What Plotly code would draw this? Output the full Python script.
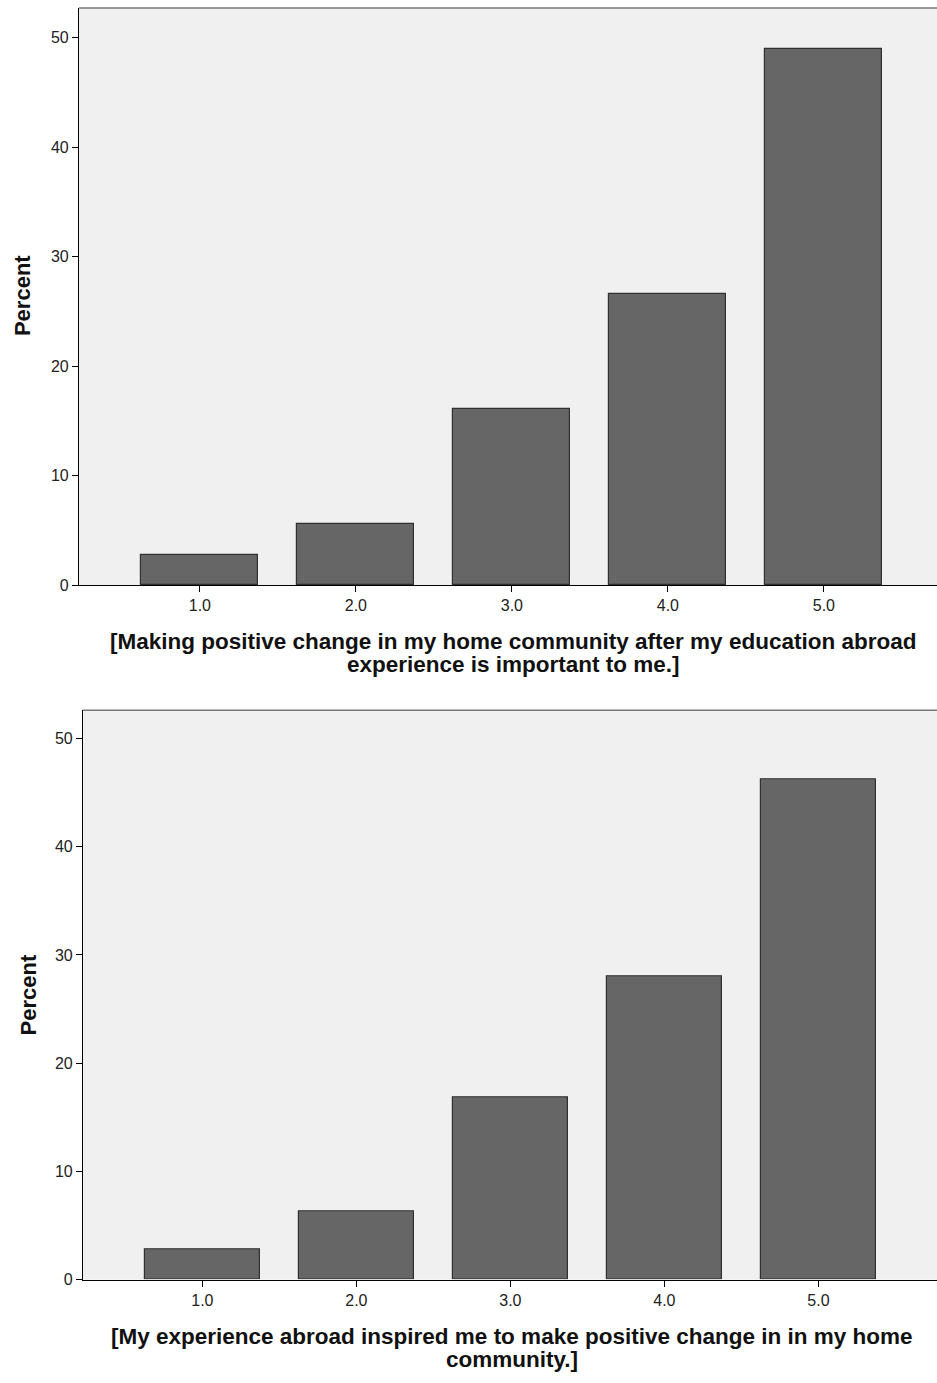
import plotly.graph_objects as go

categories = [1.0, 2.0, 3.0, 4.0, 5.0]
tick_labels = ["1.0", "2.0", "3.0", "4.0", "5.0"]
top_values = [2.8, 5.6, 16.1, 26.6, 49.0]
bottom_values = [2.8, 6.3, 16.8, 28.0, 46.2]
y_ticks = [0, 10, 20, 30, 40, 50]
top_title_lines = ["[Making positive change in my home community after my education abroad",
                   "experience is important to me.]"]
bottom_title_lines = ["[My experience abroad inspired me to make positive change in in my home",
                      "community.]"]
y_title = "Percent"

W, H = 937, 1383
FONT = "Liberation Sans, Arial, sans-serif"

fig = go.Figure()
fig.add_trace(go.Bar(x=categories, y=top_values, width=0.75, xaxis="x", yaxis="y",
                     marker=dict(color="#666666", line=dict(color="#303030", width=1.2)),
                     showlegend=False))
fig.add_trace(go.Bar(x=categories, y=bottom_values, width=0.75, xaxis="x2", yaxis="y2",
                     marker=dict(color="#666666", line=dict(color="#303030", width=1.2)),
                     showlegend=False))

def py(px):
    return 1 - px / H

def pxx(px):
    return px / W

top_dom = [py(589), py(8)]
bot_dom = [py(1288), py(715)]

axis_common = dict(showline=True, linecolor="black", linewidth=1.2, ticks="outside",
                   tickcolor="black", showgrid=False, zeroline=False,
                   tickfont=dict(family=FONT, size=16, color="#222"))

annotations = []
for i, line in enumerate(top_title_lines):
    annotations.append(dict(text="<b>" + line + "</b>", xref="paper", yref="paper",
                            x=pxx(513), y=py(646 + 23 * i), xanchor="center", yanchor="middle",
                            showarrow=False, font=dict(family=FONT, size=22.5, color="#111")))
for i, line in enumerate(bottom_title_lines):
    annotations.append(dict(text="<b>" + line + "</b>", xref="paper", yref="paper",
                            x=pxx(512), y=py(1345 + 23 * i), xanchor="center", yanchor="middle",
                            showarrow=False, font=dict(family=FONT, size=22.5, color="#111")))
annotations.append(dict(text="<b>" + y_title + "</b>", xref="paper", yref="paper", textangle=-90,
                        x=pxx(22), y=py(298), xanchor="center", yanchor="middle", showarrow=False,
                        font=dict(family=FONT, size=22, color="#111")))
annotations.append(dict(text="<b>" + y_title + "</b>", xref="paper", yref="paper", textangle=-90,
                        x=pxx(28), y=py(1002), xanchor="center", yanchor="middle", showarrow=False,
                        font=dict(family=FONT, size=22, color="#111")))

fig.update_layout(
    width=W, height=H,
    margin=dict(l=0, r=0, t=0, b=0),
    paper_bgcolor="white",
    plot_bgcolor="#f0f0f0",
    bargap=0,
    xaxis=dict(domain=[pxx(79), 1], range=[0.225, 5.725], anchor="y",
               tickvals=categories, ticktext=tick_labels, ticklen=6, **axis_common),
    yaxis=dict(domain=top_dom, range=[0, 52.7], anchor="x",
               tickvals=y_ticks, ticklen=6, **axis_common),
    xaxis2=dict(domain=[pxx(83), 1], range=[0.225, 5.77], anchor="y2",
                tickvals=categories, ticktext=tick_labels, ticklen=6, **axis_common),
    yaxis2=dict(domain=bot_dom, range=[0, 52.6], anchor="x2",
                tickvals=y_ticks, ticklen=6, **axis_common),
    shapes=[
        dict(type="line", xref="paper", yref="paper", x0=pxx(79), x1=1,
             y0=top_dom[1], y1=top_dom[1], line=dict(color="#777777", width=1.5)),
        dict(type="line", xref="paper", yref="paper", x0=pxx(83), x1=1,
             y0=bot_dom[1], y1=bot_dom[1], line=dict(color="#777777", width=1.5)),
    ],
    annotations=annotations,
)

fig.write_html("out.html", config={"displayModeBar": False},
               post_script="document.body.style.margin='0';document.body.style.padding='0';document.body.style.overflow='hidden';")
